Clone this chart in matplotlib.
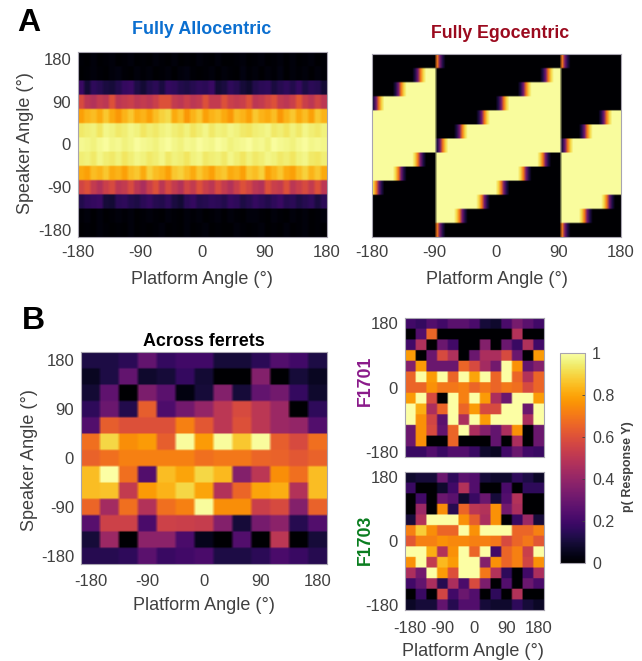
import numpy as np
import matplotlib
matplotlib.use("Agg")
import matplotlib.pyplot as plt

plt.rcParams["font.family"] = ["Liberation Sans", "DejaVu Sans"]

W, H = 642, 661
grey = "#404040"

# percent response, top row = speaker 180
allo = np.array([
    [1, 0, 2, 0, 1, 2, 0, 1, 2, 0, 1, 0, 2, 1, 0, 2, 0, 1, 0, 2, 1, 0, 2, 0, 0, 1, 2, 0, 1, 2, 0, 1, 2, 0, 2, 0, 1, 2, 0, 1],
    [0, 1, 2, 1, 0, 2, 3, 1, 0, 2, 1, 2, 0, 1, 2, 0, 2, 3, 1, 0, 1, 2, 0, 2, 1, 0, 3, 1, 2, 0, 2, 1, 3, 0, 2, 1, 2, 0, 2, 1],
    [18, 9, 16, 14, 11, 10, 13, 17, 18, 12, 9, 13, 15, 11, 17, 16, 13, 12, 14, 16, 15, 18, 9, 11, 16, 14, 10, 8, 13, 15, 16, 11, 14, 16, 13, 17, 12, 15, 14, 9],
    [58, 50, 48, 52, 50, 60, 50, 52, 54, 50, 52, 50, 54, 60, 60, 52, 50, 54, 50, 52, 60, 52, 52, 60, 54, 52, 54, 60, 50, 52, 56, 60, 52, 50, 54, 62, 54, 50, 56, 50],
    [79, 83, 85, 81, 87, 81, 77, 83, 87, 81, 83, 79, 85, 89, 91, 81, 85, 77, 83, 87, 79, 83, 85, 81, 77, 85, 83, 79, 87, 83, 81, 85, 77, 83, 87, 81, 85, 79, 87, 83],
    [94, 95, 96, 93, 97, 96, 94, 95, 97, 96, 93, 95, 94, 96, 97, 95, 94, 96, 93, 95, 97, 94, 96, 95, 97, 96, 94, 93, 95, 96, 97, 94, 95, 93, 96, 94, 97, 95, 94, 96],
    [98, 97, 96, 98, 99, 97, 98, 96, 97, 99, 98, 97, 96, 98, 99, 97, 96, 98, 97, 99, 98, 97, 99, 98, 96, 97, 98, 99, 97, 98, 96, 99, 98, 97, 96, 98, 99, 97, 98, 97],
    [95, 96, 94, 97, 95, 94, 96, 93, 95, 97, 96, 94, 95, 97, 94, 96, 95, 93, 96, 97, 94, 95, 96, 94, 97, 95, 93, 96, 94, 95, 97, 96, 94, 95, 93, 96, 97, 94, 93, 95],
    [81, 79, 85, 83, 87, 81, 83, 79, 85, 87, 81, 89, 85, 83, 79, 87, 89, 85, 81, 87, 83, 79, 85, 87, 81, 83, 79, 87, 85, 89, 79, 83, 87, 81, 79, 85, 89, 83, 87, 81],
    [56, 60, 52, 48, 54, 58, 50, 52, 58, 50, 46, 54, 60, 50, 58, 52, 48, 56, 52, 60, 54, 50, 58, 52, 48, 54, 60, 56, 50, 48, 60, 54, 52, 60, 50, 54, 58, 52, 60, 50],
    [13, 16, 17, 18, 10, 9, 15, 16, 13, 12, 15, 17, 14, 13, 16, 11, 9, 15, 17, 13, 14, 16, 15, 13, 17, 16, 12, 14, 17, 15, 13, 16, 18, 14, 15, 12, 14, 16, 11, 15],
    [1, 2, 0, 2, 0, 1, 2, 1, 2, 0, 1, 2, 1, 0, 2, 1, 0, 2, 1, 2, 0, 1, 2, 0, 2, 1, 0, 2, 2, 1, 0, 2, 1, 0, 2, 1, 2, 0, 1, 2],
    [0, 1, 0, 2, 1, 0, 1, 0, 2, 0, 1, 0, 1, 2, 0, 1, 0, 2, 0, 1, 2, 0, 1, 0, 0, 2, 1, 0, 1, 2, 0, 1, 0, 2, 0, 1, 2, 0, 1, 0],
]) / 100

# fully egocentric: one string per speaker row, one char per platform column
levels = {".": 0.0, "d": 0.12, "p": 0.32, "m": 0.5, "o": 0.7, "y": 0.9, "Y": 0.99}
ego_rows = [
    "." * 23 + "opd" + "." * 42 + "opd" + "." * 19,
    "." * 15 + "dpoy" + "Y" * 4 + "." * 38 + "dpoy" + "Y" * 3 + "." * 22,
    "." * 8 + "dpoy" + "Y" * 11 + "." * 30 + "dpoy" + "Y" * 11 + "." * 22,
    "dpoy" + "Y" * 19 + "." * 22 + "dpoy" + "Y" * 19 + "." * 22,
    "Y" * 23 + "." * 15 + "dpoy" + "Y" * 26 + "." * 14 + "dpoy" + "Y" * 4,
    "Y" * 23 + "." * 7 + "dpoy" + "Y" * 34 + "." * 7 + "dpoy" + "Y" * 11,
    "Y" * 23 + "dpoy" + "Y" * 41 + "dpoy" + "Y" * 18,
    "Y" * 15 + "yopd" + "." * 4 + "Y" * 37 + "yopd" + "." * 4 + "Y" * 22,
    "Y" * 8 + "yopd" + "." * 11 + "Y" * 30 + "yopd" + "." * 11 + "Y" * 22,
    "yopd" + "." * 19 + "Y" * 22 + "yopd" + "." * 19 + "Y" * 22,
    "." * 23 + "Y" * 15 + "yopd" + "." * 26 + "Y" * 15 + "yopd" + "." * 3,
    "." * 23 + "Y" * 7 + "yopd" + "." * 34 + "Y" * 7 + "yopd" + "." * 11,
    "." * 23 + "opd" + "." * 42 + "opd" + "." * 19,
]
ego = np.array([[levels[c] for c in row] for row in ego_rows])

across = np.array([
    [.12, .12, .15, .28, .17, .20, .20, .10, .10, .15, .24, .20, .12],
    [.06, .12, .28, .08, .10, .17, .09, 0, 0, .36, 0, .10, .06],
    [.09, .27, 0, .34, .26, .03, .10, .36, .10, .28, .32, .17, .08],
    [.16, .30, .13, .64, .23, .32, .40, .50, .58, .50, .42, 0, .16],
    [.24, .64, .60, .60, .60, .72, .62, .50, .60, .50, .42, .40, .24],
    [.68, .90, .75, .78, .64, .99, .78, .99, .87, .99, .64, .58, .68],
    [.65, .68, .72, .72, .72, .72, .68, .70, .70, .66, .65, .62, .65],
    [.85, 1, .68, .24, .85, .80, .90, .84, .36, .50, .75, .68, .85],
    [.85, .86, .52, .78, .83, .90, .80, .48, .66, .80, .82, .48, .85],
    [.66, .44, .68, .48, .68, .72, .99, .75, .75, .54, .58, .36, .65],
    [.25, .55, .55, .22, .55, .54, .53, .36, .10, .33, .38, .14, .24],
    [.10, .42, 0, .38, .38, .22, .05, 0, .24, 0, .50, 0, .10],
    [.14, .14, .16, .26, .18, .20, .22, .12, .12, .15, .22, .18, .14],
])

f1701 = np.array([
    [.20, .17, .24, .20, .26, .26, .22, .10, .08, .22, .33, .26, .20],
    [0, .24, .66, 0, 0, 0, 0, 0, 0, 0, .48, 0, 0],
    [.20, .47, 0, .30, .20, 0, 0, .36, 0, .30, .18, .47, .20],
    [.78, 0, .30, .58, .47, 0, .30, .46, .46, .58, .30, 0, .78],
    [.36, .78, .30, .30, .30, .66, .58, .44, .32, 1, .76, .28, .36],
    [.66, 1, .78, 1, .66, 1, .80, 1, .66, 1, .66, .48, .66],
    [.66, .66, .76, .70, .70, .72, .66, .70, .66, .70, .68, .58, .66],
    [.78, 1, .58, 0, 1, .72, 1, .78, .46, .30, 1, 1, .78],
    [1, .82, .46, .66, 1, .66, .78, .58, .58, 1, 1, .30, 1],
    [1, .76, .56, .26, 1, .46, 1, .78, 1, 1, 1, .46, 1],
    [.30, .76, .58, .28, .66, 1, .46, .36, .28, .46, .76, 0, .30],
    [.30, .76, 0, 0, .66, 0, 0, 0, .28, 0, .46, 0, .30],
    [.18, .18, .24, .18, .24, .24, .18, .08, .06, .20, .30, .20, .18],
])

f1703 = np.array([
    [.08, .10, .10, .30, .16, .26, .24, .10, .08, .08, .16, .12, .07],
    [.18, 0, 0, .08, .20, .48, .24, 0, 0, .22, 0, .16, .16],
    [0, .20, 0, .30, .26, .08, .18, .30, .10, .24, .48, 0, 0],
    [0, .42, 0, .75, .14, .66, .50, .48, .76, .32, .46, 0, 0],
    [.10, .48, 1, 1, 1, .76, .64, .46, .76, 0, .18, .42, .10],
    [.72, .88, .75, .66, .66, 1, .76, 1, 1, 1, .66, .66, .72],
    [.62, .72, .72, .76, .74, .74, .72, .72, .70, .58, .66, .70, .62],
    [1, 1, .82, .48, .76, 1, .66, 1, .20, .66, .72, .54, 1],
    [.76, 1, .52, .84, .78, 1, 1, .36, .76, .66, .72, .56, .76],
    [.46, .32, 1, .78, .60, 1, 1, .70, .48, .16, 0, .20, .46],
    [.20, .28, .46, .14, .46, .22, .58, .34, 0, .24, 0, .30, .22],
    [0, .18, 0, .56, .20, .30, .24, 0, .16, 0, .48, 0, 0],
    [.07, .10, .10, .28, .14, .24, .24, .10, .08, .08, .16, .10, .07],
])

angle_ticks = [-180, -90, 0, 90, 180]
sparse_ticks = [-180, 0, 180]
cbar_ticks = [0, 0.2, 0.4, 0.6, 0.8, 1]
cbar_labels = ["0", "0.2", "0.4", "0.6", "0.8", "1"]


def px_axes(left, top, right, bottom):
    return fig.add_axes([left / W, 1 - bottom / H, (right - left) / W, (bottom - top) / H])


def px_text(x, y, s, **kw):
    kw.setdefault("ha", "center")
    kw.setdefault("va", "center")
    kw.setdefault("color", grey)
    fig.text(x / W, 1 - y / H, s, **kw)


def draw_map(ax, values, xlim, rep=(8, 6), xpad=6):
    # upsample then bilinear, the reference is a slightly soft raster
    big = np.kron(values, np.ones(rep))
    im = ax.imshow(big, cmap="inferno", vmin=0, vmax=1, aspect="auto",
                   extent=[-xlim, xlim, -195, 195],
                   interpolation="bilinear", interpolation_stage="rgba")
    for spine in ax.spines.values():
        spine.set_color("#a8a4b0")
        spine.set_linewidth(0.8)
    ax.tick_params(length=0, labelsize=12, colors=grey)
    ax.tick_params(axis="y", pad=5)
    ax.tick_params(axis="x", pad=xpad)
    return im


fig = plt.figure(figsize=(W / 100, H / 100), dpi=100)

ax = px_axes(78, 52, 327, 237)
draw_map(ax, allo, 180, rep=(8, 2), xpad=6)
ax.set_xticks(angle_ticks, [str(t) for t in angle_ticks])
ax.set_yticks(angle_ticks, [str(t) for t in angle_ticks])

ax = px_axes(372, 54, 621, 237)
draw_map(ax, ego, 180, rep=(8, 1), xpad=6)
ax.set_xticks(angle_ticks, [str(t) for t in angle_ticks])
ax.set_yticks([])

ax = px_axes(81, 352, 327, 564)
im = draw_map(ax, across, 195, xpad=7)
ax.set_xticks(angle_ticks, [str(t) for t in angle_ticks])
ax.set_yticks(angle_ticks, [str(t) for t in angle_ticks])

ax = px_axes(405, 318, 544, 457)
draw_map(ax, f1701, 195)
ax.set_xticks([])
ax.set_yticks(sparse_ticks, [str(t) for t in sparse_ticks])

ax = px_axes(405, 472, 544, 610)
draw_map(ax, f1703, 195, xpad=8)
ax.set_xticks(angle_ticks, [str(t) for t in angle_ticks])
ax.set_yticks(sparse_ticks, [str(t) for t in sparse_ticks])

cax = px_axes(560, 353, 585, 563)
cbar = fig.colorbar(im, cax=cax, ticks=cbar_ticks)
cbar.ax.set_yticklabels(cbar_labels)
cbar.ax.tick_params(direction="in", length=2, width=0.6, labelsize=11.5,
                    colors=grey, pad=5)
cbar.outline.set_edgecolor("#a8a4b0")
cbar.outline.set_linewidth(0.8)

# panel letters and labels
px_text(29, 23, "A", fontsize=23, fontweight="bold", color="black")
px_text(33, 321, "B", fontsize=23, fontweight="bold", color="black")
px_text(202, 29, "Fully Allocentric", fontsize=12.9, fontweight="bold", color="#0b6fd0")
px_text(500, 33, "Fully Egocentric", fontsize=12.8, fontweight="bold", color="#9b0a1e")
px_text(204, 341, "Across ferrets", fontsize=12.9, fontweight="bold", color="black")

px_text(202, 279, "Platform Angle (°)", fontsize=13)
px_text(497, 279, "Platform Angle (°)", fontsize=13)
px_text(204, 606, "Platform Angle (°)", fontsize=13)
px_text(473, 652, "Platform Angle (°)", fontsize=13)
px_text(26, 143, "Speaker Angle (°)", fontsize=13, rotation=90)
px_text(29, 460, "Speaker Angle (°)", fontsize=13, rotation=90)

px_text(365, 381, "F1701", fontsize=12.8, fontweight="bold", color="#8a1a8a", rotation=90)
px_text(365, 540, "F1703", fontsize=12.8, fontweight="bold", color="#0a7d1f", rotation=90)
px_text(628, 467, "p( Response Y)", fontsize=9, fontweight="bold", rotation=90)

fig.savefig("out.png", dpi=100)
